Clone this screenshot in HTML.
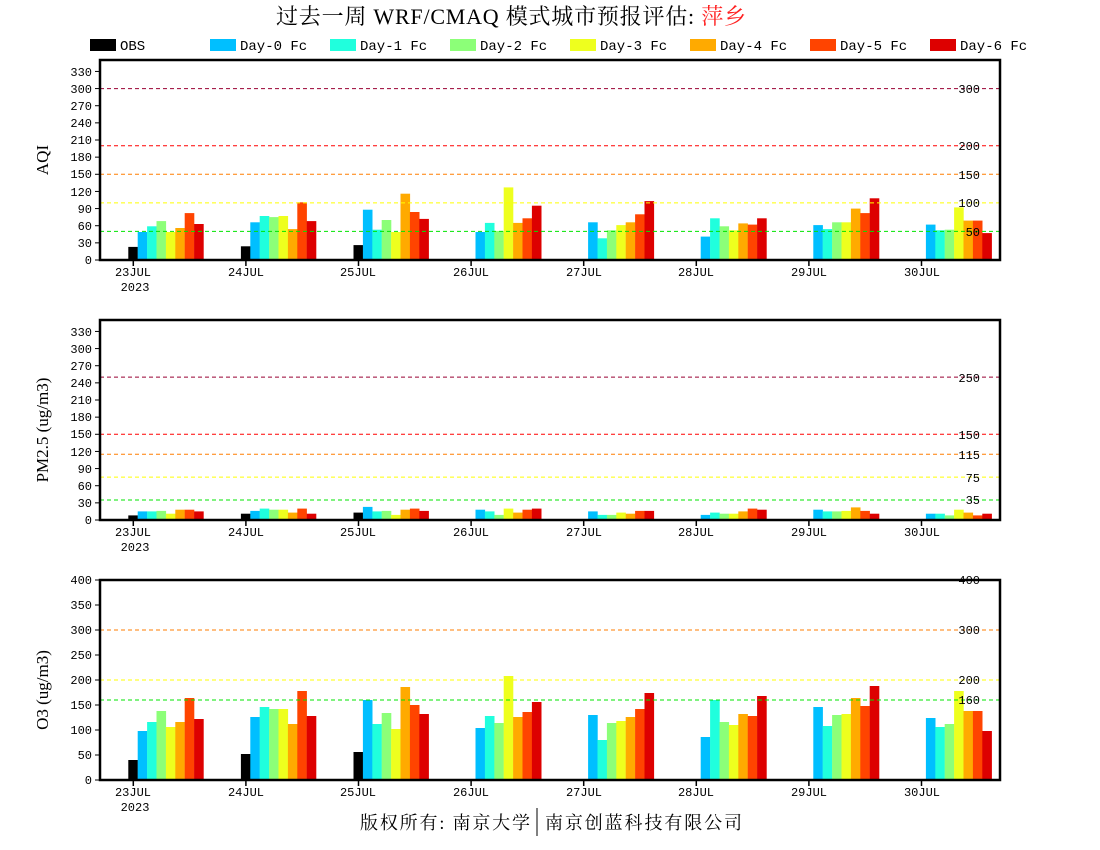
<!DOCTYPE html>
<html><head><meta charset="utf-8">
<style>
body{margin:0;background:#fff;}
svg{display:block;}
.t{font-family:"Liberation Mono",monospace;font-size:12px;fill:#000;}
.ax{font-family:"Liberation Serif","Noto Serif CJK SC",serif;font-size:17px;fill:#000;}
</style></head>
<body>
<svg id="s" width="1100" height="850" xmlns="http://www.w3.org/2000/svg">
<rect width="1100" height="850" fill="#fff"/>
<text x="276" y="24" textLength="470" lengthAdjust="spacing" font-family="Liberation Serif, Noto Serif CJK SC, serif" font-size="22">过去一周 WRF/CMAQ 模式城市预报评估: <tspan fill="#ff2020">萍乡</tspan></text>
<g id="legend" font-family="Liberation Mono, monospace" font-size="14">
<rect x="90" y="39" width="26" height="12" fill="#000"/><text x="120" y="50">OBS</text>
<rect x="210" y="39" width="26" height="12" fill="#00bfff"/><text x="240" y="50">Day-0 Fc</text>
<rect x="330" y="39" width="26" height="12" fill="#20ffdd"/><text x="360" y="50">Day-1 Fc</text>
<rect x="450" y="39" width="26" height="12" fill="#8cff78"/><text x="480" y="50">Day-2 Fc</text>
<rect x="570" y="39" width="26" height="12" fill="#eeff1e"/><text x="600" y="50">Day-3 Fc</text>
<rect x="690" y="39" width="26" height="12" fill="#ffaa00"/><text x="720" y="50">Day-4 Fc</text>
<rect x="810" y="39" width="26" height="12" fill="#ff4400"/><text x="840" y="50">Day-5 Fc</text>
<rect x="930" y="39" width="26" height="12" fill="#dd0000"/><text x="960" y="50">Day-6 Fc</text>
</g>
<g id="bars"></g>
<g id="lines"></g>
<g class="t" text-anchor="end">
<text x="92" y="264">0</text><text x="92" y="247">30</text><text x="92" y="230">60</text><text x="92" y="213">90</text><text x="92" y="196">120</text><text x="92" y="178">150</text><text x="92" y="161">180</text><text x="92" y="144">210</text><text x="92" y="127">240</text><text x="92" y="110">270</text><text x="92" y="93">300</text><text x="92" y="76">330</text>
<text x="92" y="524">0</text><text x="92" y="507">30</text><text x="92" y="490">60</text><text x="92" y="473">90</text><text x="92" y="456">120</text><text x="92" y="438">150</text><text x="92" y="421">180</text><text x="92" y="404">210</text><text x="92" y="387">240</text><text x="92" y="370">270</text><text x="92" y="353">300</text><text x="92" y="336">330</text>
<text x="92" y="784">0</text><text x="92" y="759">50</text><text x="92" y="734">100</text><text x="92" y="709">150</text><text x="92" y="684">200</text><text x="92" y="659">250</text><text x="92" y="634">300</text><text x="92" y="609">350</text><text x="92" y="584">400</text>
</g>
<g class="t" text-anchor="end">
<text x="980" y="93">300</text><text x="980" y="150">200</text><text x="980" y="179">150</text><text x="980" y="207">100</text><text x="980" y="236">50</text>
<text x="980" y="382">250</text><text x="980" y="439">150</text><text x="980" y="459">115</text><text x="980" y="482">75</text><text x="980" y="504">35</text>
<text x="980" y="584">400</text><text x="980" y="634">300</text><text x="980" y="684">200</text><text x="980" y="704">160</text>
</g>
<g class="t" text-anchor="middle">
<text x="133" y="276">23JUL</text><text x="135" y="291">2023</text><text x="246" y="276">24JUL</text><text x="358" y="276">25JUL</text><text x="471" y="276">26JUL</text><text x="584" y="276">27JUL</text><text x="696" y="276">28JUL</text><text x="809" y="276">29JUL</text><text x="922" y="276">30JUL</text>
<text x="133" y="536">23JUL</text><text x="135" y="551">2023</text><text x="246" y="536">24JUL</text><text x="358" y="536">25JUL</text><text x="471" y="536">26JUL</text><text x="584" y="536">27JUL</text><text x="696" y="536">28JUL</text><text x="809" y="536">29JUL</text><text x="922" y="536">30JUL</text>
<text x="133" y="796">23JUL</text><text x="135" y="811">2023</text><text x="246" y="796">24JUL</text><text x="358" y="796">25JUL</text><text x="471" y="796">26JUL</text><text x="584" y="796">27JUL</text><text x="696" y="796">28JUL</text><text x="809" y="796">29JUL</text><text x="922" y="796">30JUL</text>
</g>
<text class="ax" transform="translate(48,160) rotate(-90)" text-anchor="middle">AQI</text>
<text class="ax" transform="translate(48,430) rotate(-90)" text-anchor="middle">PM2.5 (ug/m3)</text>
<text class="ax" transform="translate(48,690) rotate(-90)" text-anchor="middle">O3 (ug/m3)</text>
<text x="360" y="829" textLength="170" lengthAdjust="spacing" font-family="Liberation Serif, Noto Serif CJK SC, serif" font-size="18">版权所有: 南京大学</text>
<line x1="537" y1="808" x2="537" y2="836" stroke="#000" stroke-width="1"/>
<text x="545" y="829" textLength="197" lengthAdjust="spacing" font-family="Liberation Serif, Noto Serif CJK SC, serif" font-size="18">南京创蓝科技有限公司</text>
</svg>
<script>
var NS="http://www.w3.org/2000/svg";
var cols=["#000000","#00bfff","#20ffdd","#8cff78","#eeff1e","#ffaa00","#ff4400","#dd0000"];
var aqi=[[23,49,59,68,49,56,82,63],[24,66,77,75,77,54,101,68],[26,88,53,70,49,116,84,72],[0,49,65,51,127,65,73,95],[0,66,38,52,61,66,80,103],[0,41,73,59,52,64,62,73],[0,61,54,66,66,90,82,108],[0,62,52,53,92,69,69,47]];
var pm=[[8,15,15,16,11,18,18,15],[11,16,20,18,18,13,20,11],[13,23,15,16,9,18,20,16],[0,18,15,9,20,13,18,20],[0,15,9,9,13,11,16,16],[0,9,13,11,11,15,20,18],[0,18,15,15,16,22,16,11],[0,11,11,8,18,13,8,11]];
var o3=[[40,98,116,138,106,116,164,122],[52,126,146,142,142,112,178,128],[56,160,112,134,102,186,150,132],[0,104,128,114,208,126,136,156],[0,130,80,114,118,126,142,174],[0,86,160,116,110,132,128,168],[0,146,108,130,132,164,148,188],[0,124,106,112,178,138,138,98]];
var panels=[{top:60,max:350,d:aqi,ticks:30,lines:[[300,"#990033"],[200,"#ff0000"],[150,"#ff7e00"],[100,"#ffff00"],[50,"#00e400"]]},
{top:320,max:350,d:pm,ticks:30,lines:[[250,"#990033"],[150,"#ff0000"],[115,"#ff7e00"],[75,"#ffff00"],[35,"#00e400"]]},
{top:580,max:400,d:o3,ticks:50,lines:[[400,"#ff0000"],[300,"#ff7e00"],[200,"#ffff00"],[160,"#00e400"]]}];
var B=document.getElementById("bars"),L=document.getElementById("lines");
function el(n,a,p){var e=document.createElementNS(NS,n);for(var k in a)e.setAttribute(k,a[k]);p.appendChild(e);return e;}
panels.forEach(function(p){
 var bot=p.top+200,sc=200/p.max;
 p.d.forEach(function(g,i){var t=133.3+112.6*i;
  g.forEach(function(v,j){if(v<=0)return;var h=v*sc;
   el("rect",{x:(t-5+9.4*j).toFixed(1),y:(bot-h).toFixed(1),width:9.6,height:h.toFixed(1),fill:cols[j]},B);});
  el("line",{x1:t,y1:bot,x2:t,y2:bot+6,stroke:"#000","stroke-width":1.5},L);
 });
 p.lines.forEach(function(l){var y=bot-l[0]*sc;
  el("line",{x1:100,y1:y,x2:1000,y2:y,stroke:l[1],"stroke-width":1,"stroke-dasharray":"4,3"},L);});
 for(var v=0;v<=p.max;v+=p.ticks){var y=bot-v*sc;el("line",{x1:95,y1:y,x2:100,y2:y,stroke:"#000","stroke-width":1},L);}
 el("rect",{x:100,y:p.top,width:900,height:200,fill:"none",stroke:"#000","stroke-width":2.5},L);
});
</script>
</body></html>
